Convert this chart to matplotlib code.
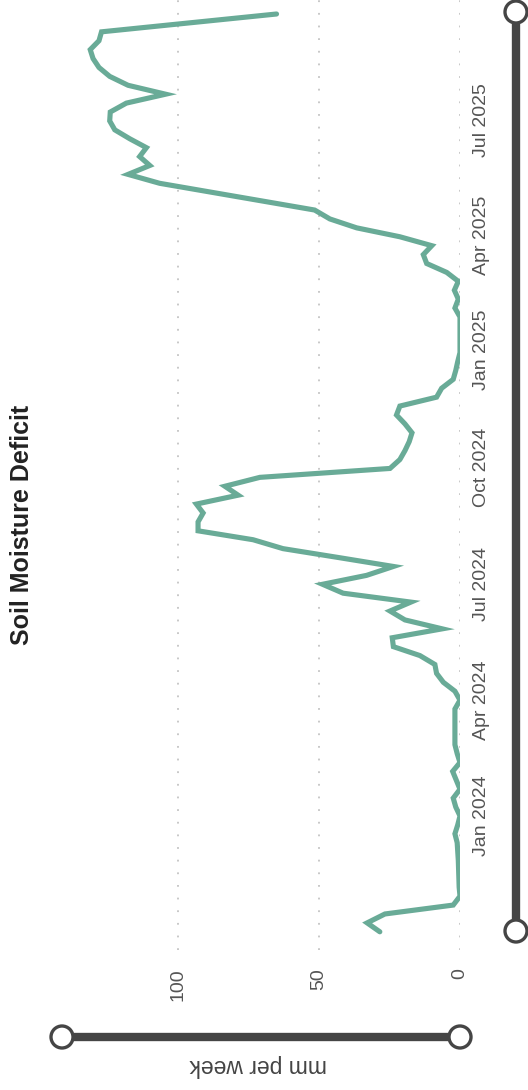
import numpy as np
import pandas as pd
import matplotlib
matplotlib.use("Agg")
import matplotlib.pyplot as plt
import matplotlib.dates as mdates

plt.rcParams['font.family'] = ['Liberation Sans', 'DejaVu Sans']

# weekly soil moisture deficit, mm per week
weeks = pd.date_range("2023-10-02", periods=104, freq="7D")
deficit = [
    28.4, 32.9, 26.6, 2.4, 0.0, 0.3, 0.4, 0.5, 0.6, 0.8,
    1.0, 1.8, 0.8, 0.0, 1.5, 2.4, 0.0, 1.3, 2.6, 0.0,
    1.0, 1.8, 1.8, 1.8, 1.8, 1.8, 0.0, 1.8, 5.9, 8.3,
    8.9, 14.2, 23.6, 24.0, 6.3, 19.5, 24.8, 17.4, 41.4, 48.7,
    33.1, 23.6, 43.0, 62.7, 73.3, 92.8, 92.8, 91.0, 93.4, 78.6,
    83.3, 70.9, 24.8, 21.3, 19.5, 18.0, 17.0, 19.5, 22.5, 21.3,
    8.3, 6.5, 2.4, 1.5, 0.8, 0.0, 0.0, 0.0, 0.0, 0.0,
    1.8, 0.6, 2.0, 0.6, 4.7, 11.8, 13.0, 10.0, 21.3, 36.6,
    46.1, 51.5, 69.8, 88.1, 106.4, 117.6, 109.9, 113.5, 111.1, 117.0,
    122.3, 124.1, 123.9, 118.2, 104.3, 117.6, 124.1, 127.9, 130.0, 131.0,
    127.9, 127.0, 96.0, 65.0,
]
value_ticks = [0, 50, 100]
date_ticks = ["2024-01-01", "2024-04-01", "2024-07-01", "2024-10-01",
              "2025-01-01", "2025-04-01", "2025-07-01"]
date_labels = ["Jan 2024", "Apr 2024", "Jul 2024", "Oct 2024",
               "Jan 2025", "Apr 2025", "Jul 2025"]

W, H = 528, 1090
fig = plt.figure(figsize=(W / 100, H / 100), dpi=100)

# chart is drawn turned a quarter turn: time runs upwards, values to the left
ax = fig.add_axes([62 / W, 1 - 950 / H, (460 - 62) / W, 950 / H])
ax.plot(deficit, mdates.date2num(weeks), color="#69ab97", lw=3.7,
        solid_joinstyle="miter", solid_capstyle="round", zorder=3)

jan = mdates.date2num(pd.Timestamp("2024-01-01"))
ax.set_ylim(jan - 105.3, jan + 641)
ax.set_xlim(141, 0)

ax.set_xticks(value_ticks)
ax.set_xticklabels([str(v) for v in value_ticks], rotation=90, va="top",
                   fontsize=14, color="#555555")
ax.set_yticks(mdates.date2num(pd.to_datetime(date_ticks)))
ax.set_yticklabels(date_labels, rotation=90, ha="left", va="center",
                   fontsize=14, color="#555555")
ax.yaxis.tick_right()
ax.tick_params(axis="x", length=0, pad=13)
ax.tick_params(axis="y", length=0, pad=9)
ax.grid(axis="x", color="#c4c4c4", lw=1.3, linestyle=(0, (1, 6)))
ax.grid(axis="y", visible=False)
for s in ax.spines.values():
    s.set_visible(False)

# overlay in pixel units for the range sliders and labels
ov = fig.add_axes([0, 0, 1, 1], zorder=5)
ov.set_xlim(0, W)
ov.set_ylim(H, 0)
ov.axis("off")
ov.patch.set_alpha(0)

dark = "#454545"
ov.plot([516, 516], [12, 931], color=dark, lw=6, solid_capstyle="butt", zorder=2)
ov.plot([62, 460], [1037, 1037], color=dark, lw=6, solid_capstyle="butt", zorder=2)
for cx, cy in [(516, 12), (516, 931), (62, 1037), (460, 1037)]:
    ov.add_patch(plt.Circle((cx, cy), 11, facecolor="white", edgecolor=dark,
                            lw=2.4, zorder=4))

fig.text(22 / W, 1 - 525 / H, "Soil Moisture Deficit", rotation=90,
         ha="center", va="center", fontsize=18, fontweight="bold", color="#222222")
fig.text(258 / W, 1 - 1066 / H, "mm per week", rotation=180,
         ha="center", va="center", fontsize=16.5, color="#444444")

fig.savefig("out.png", dpi=100)
